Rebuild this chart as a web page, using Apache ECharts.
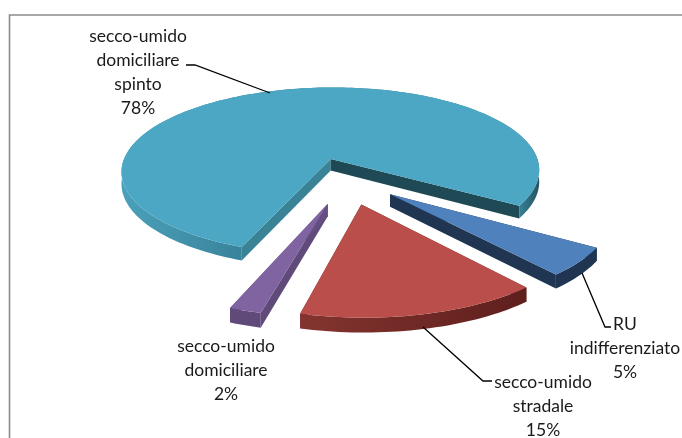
<!DOCTYPE html>
<html>
<head>
<meta charset="utf-8">
<style>
  html, body { margin: 0; padding: 0; background: #fff; }
  #chart { width: 682px; height: 438px; }
</style>
<script src="https://cdn.jsdelivr.net/npm/echarts@6/dist/echarts.min.js"></script>
</head>
<body>
<div id="chart"></div>
<script>
// values in drawing order, clockwise from the start angle
const categories = ['RU\nindifferenziato', 'secco-umido\nstradale', 'secco-umido\ndomiciliare', 'secco-umido\ndomiciliare\nspinto']
const shares = [5, 15, 2, 78]

const topColors = ['#4F81BD', '#BA4E4A', '#8064A2', '#4BA7C3']
const wallStops = [
  [[0, '#1F3552'], [1, '#1F3552']],
  [[0, '#84342F'], [1, '#5E1F1D']],
  [[0, '#5F4A7A'], [1, '#5F4A7A']],
  [[0, '#4BA0BA'], [0.3, '#38829A'], [0.95, '#38829A'], [1, '#245562']]
]
const cutColors = ['#1F3552', '#5E1F1D', '#5F4A7A', '#3A8296']
const cutColorsEnd = ['#1F3552', '#5E1F1D', '#654E82', '#1F4A55']

const labelPos = [[625, 312], [543, 370], [226, 334], [138, 24]]
const leaders = [
  [[582, 273], [605, 327], [611, 327]],
  [[423, 327], [483, 381], [492, 381]],
  null,
  [[270, 93], [195, 65], [186, 65]]
]

const cx = 347, cy = 179
const R = 214, q = 0.41, k = 0.15, thick = 12, startDeg = 32
const explode = [0.26, 0.285, 0.285, 0.25]
const total = shares.reduce((a, b) => a + b, 0)

const project = (x, z, down) => {
  const w = 1 / (1 - k * z)
  return [cx + R * x * w, cy + R * q * z * w + (down ? thick * w : 0)]
}

const renderSlice = (params, api) => {
  const i = params.dataIndex
  let before = 0
  for (let j = 0; j < i; j++) before += shares[j]
  const a0 = (startDeg + before / total * 360) * Math.PI / 180
  const a1 = (startDeg + (before + api.value(0)) / total * 360) * Math.PI / 180
  const mid = (a0 + a1) / 2
  const ox = explode[i] * Math.cos(mid)
  const oz = explode[i] * Math.sin(mid)

  const steps = Math.max(4, Math.round((a1 - a0) * 40))
  const arc = []
  for (let s = 0; s <= steps; s++) {
    const a = a0 + (a1 - a0) * s / steps
    arc.push([ox + Math.cos(a), oz + Math.sin(a)])
  }
  const top = arc.map(p => project(p[0], p[1], false))
  const low = arc.map(p => project(p[0], p[1], true))
  const apexTop = project(ox, oz, false)
  const apexLow = project(ox, oz, true)

  const poly = (points, fill) => ({
    type: 'polygon',
    shape: { points },
    style: { fill, stroke: null }
  })
  const wallFill = new echarts.graphic.LinearGradient(0, 0, 1, 0,
    wallStops[i].map(s => ({ offset: s[0], color: s[1] })))

  return {
    type: 'group',
    children: [
      poly([apexTop, top[0], low[0], apexLow], cutColors[i]),
      poly([apexTop, top[steps], low[steps], apexLow], cutColorsEnd[i]),
      poly(top.concat(low.slice().reverse()), wallFill),
      poly([apexTop].concat(top), topColors[i])
    ]
  }
}

const labelLines = categories.map((c, i) => `${c}\n${shares[i]}%`)

const chart = echarts.init(document.getElementById('chart'))
chart.setOption({
  animation: false,
  backgroundColor: '#fff',
  graphic: [
    {
      type: 'polyline',
      shape: { points: [[9.5, 438], [9.5, 15], [682, 15]] },
      style: { stroke: '#8C8C8C', lineWidth: 1.6, fill: null },
      z: 0
    },
    ...leaders.filter(Boolean).map(points => ({
      type: 'polyline',
      shape: { points },
      style: { stroke: '#000', lineWidth: 1.3, fill: null },
      z: 10
    })),
    ...labelLines.map((text, i) => ({
      type: 'text',
      x: labelPos[i][0],
      y: labelPos[i][1],
      style: {
        text,
        font: '17.5px Lato',
        lineHeight: 24,
        fill: '#1a1a1a',
        align: 'center',
        verticalAlign: 'top'
      },
      z: 11
    }))
  ],
  series: [{
    type: 'custom',
    coordinateSystem: 'none',
    renderItem: renderSlice,
    data: shares.map(v => [v]),
    z: 5
  }]
})
</script>
</body>
</html>
